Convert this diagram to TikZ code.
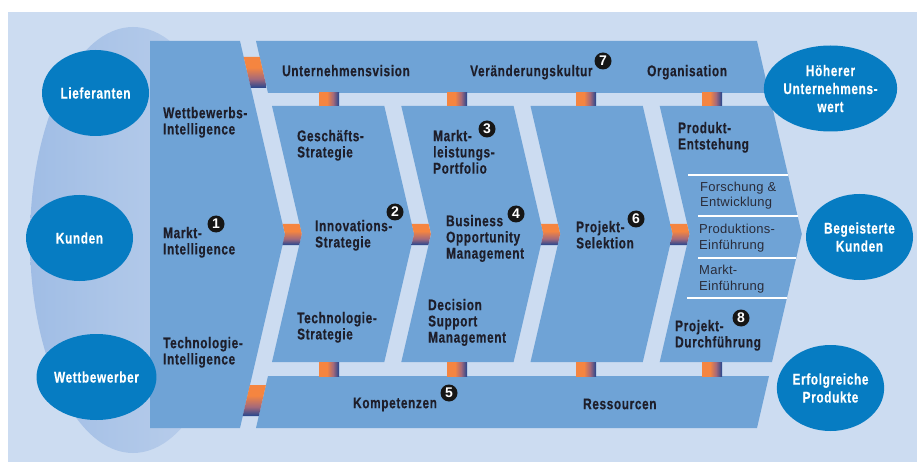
\documentclass[tikz,border=0pt]{standalone}
\usepackage{fontspec}
\usetikzlibrary{shapes.geometric}

% condensed bold face for the labels, plain face for the sub-steps
\newfontfamily\condb{Liberation Sans}[FakeStretch=0.76,LetterSpace=4.2,FakeBold=0.4]
\newfontfamily\plainf{Liberation Sans}[LetterSpace=2]
\newfontfamily\digitf{Liberation Sans}

\definecolor{panel}{HTML}{CCDCF1}
\definecolor{eggL}{HTML}{A0BDE5}
\definecolor{eggR}{HTML}{BED1EC}
\definecolor{chev}{HTML}{6FA3D6}
\definecolor{ell}{HTML}{067CC2}
\definecolor{txt}{HTML}{1E1E2A}
\definecolor{txtb}{HTML}{2A2C3A}
\definecolor{numc}{HTML}{161616}
\definecolor{corange}{HTML}{F58540}
\definecolor{cmauve}{HTML}{A5697A}
\definecolor{cnavy}{HTML}{22458F}

% link pieces: orange fading into navy
\pgfdeclareverticalshading{vlink}{100bp}{color(0bp)=(cnavy); color(25bp)=(cnavy); color(40bp)=(cmauve); color(58bp)=(corange); color(100bp)=(corange)}
\pgfdeclarehorizontalshading{hlink}{100bp}{color(0bp)=(corange); color(45bp)=(corange); color(60bp)=(cmauve); color(75bp)=(cnavy); color(100bp)=(cnavy)}

\newcommand\capstrut{\rule{0pt}{12pt}}

\tikzset{
  lbl/.style={anchor=north west, inner sep=0pt, align=left, text=txt,
    font=\condb\bfseries\fontsize{15.5}{16.2}\selectfont},
  sub/.style={anchor=north west, inner sep=0pt, align=left, text=txtb,
    font=\plainf\fontsize{13}{15.8}\selectfont},
  goal/.style={ellipse, fill=ell, minimum width=107pt, minimum height=86pt,
    inner sep=0pt, align=center, text=white,
    font=\condb\bfseries\fontsize{15.5}{18}\selectfont},
  num/.style={circle, fill=numc, minimum size=17pt, inner sep=0pt, text=white,
    font=\digitf\bfseries\fontsize{14}{14}\selectfont},
  block/.style={fill=chev},
  sep/.style={white, line width=1.5pt}
}

\begin{document}
\begin{tikzpicture}[x=1pt,y=-1pt]
\useasboundingbox (0,0) rectangle (917,462);
\fill[white] (0,0) rectangle (917,462);
\fill[panel] (8,12) rectangle (917,462);

% market environment behind the left column
\shade[left color=eggL, right color=eggR] (133,240) ellipse [x radius=103, y radius=213];

% intelligence column
\fill[block] (150,41) -- (240,41) -- (285,234.5) -- (240,428) -- (150,428) -- cycle;

% top and bottom bands
\fill[block] (256,41) -- (757,41) -- (769,93) -- (268,93) -- cycle;
\fill[block] (268,376) -- (769,376) -- (757,428) -- (256,428) -- cycle;

% process chevrons
\foreach \xl in {272,401.3,530.5,659.7}
  \fill[block] (\xl,106) -- ++(112.3,0) -- ++(29.8,128) -- ++(-29.8,128)
    -- ++(-112.3,0) -- ++(29.8,-128) -- cycle;

% links between the chevrons
\foreach \lt in {285,414.1,543.4,672.6}
  \shade[shading=vlink] (\lt-2.33,224) -- (\lt+14.47,224) -- (\lt+16.8,234)
    -- (\lt+14.24,245) -- (\lt-2.56,245) -- (\lt,234) -- cycle;

% links from the column to the bands
\shade[shading=vlink] (243.7,57) -- (259.7,57) -- (266.8,88) -- (250.9,88) -- cycle;
\shade[shading=vlink] (249.9,385) -- (265.9,385) -- (258.8,416) -- (242.7,416) -- cycle;

% links from the bands to the chevrons
\foreach \cx in {319,447,576,702} {
  \shade[shading=hlink] (\cx,93) rectangle (\cx+20,106);
  \shade[shading=hlink] (\cx,362.5) rectangle (\cx+20,376);
}

% rules between the development sub-steps
\draw[sep] (688,175) -- (788.1,175);
\draw[sep] (698,216) -- (797.6,216);
\draw[sep] (698,258) -- (796.2,258);
\draw[sep] (687,298) -- (786.9,298);

% stakeholders and outcomes
\node[goal] (lief) at (95.5,93) {Lieferanten};
\node[goal] (kund) at (79.5,238) {Kunden};
\node[goal] (wett) at (96.5,377) {Wettbewerber};
\node[goal] (wert) at (830.5,88.5) {Höherer\\Unternehmens-\\wert};
\node[goal] (begk) at (859.5,237) {Begeisterte\\Kunden};
\node[goal] (erfp) at (830.5,388) {Erfolgreiche\\Produkte};

% column labels
\node[lbl] (wi) at (163,106) {\capstrut Wettbewerbs-\\Intelligence};
\node[lbl] (mi) at (163,226) {\capstrut Markt-\\Intelligence};
\node[lbl] (ti) at (163,336) {\capstrut Technologie-\\Intelligence};

% band labels
\node[lbl] (uv) at (282,64) {\capstrut Unternehmensvision};
\node[lbl] (vk) at (470,64) {\capstrut Veränderungskultur};
\node[lbl] (org) at (647,64) {\capstrut Organisation};
\node[lbl] (komp) at (353,396) {\capstrut Kompetenzen};
\node[lbl] (ress) at (583,397) {\capstrut Ressourcen};

% chevron labels
\node[lbl] (gs) at (297,129) {\capstrut Geschäfts-\\Strategie};
\node[lbl] (is) at (315,219) {\capstrut Innovations-\\Strategie};
\node[lbl] (ts) at (297,311) {\capstrut Technologie-\\Strategie};
\node[lbl] (mlp) at (433,129) {\capstrut Markt-\\leistungs-\\Portfolio};
\node[lbl] (bom) at (446,214) {\capstrut Business\\Opportunity\\Management};
\node[lbl] (dsm) at (428,298) {\capstrut Decision\\Support\\Management};
\node[lbl] (ps) at (576,220) {\capstrut Projekt-\\Selektion};
\node[lbl] (pe) at (678,121) {\capstrut Produkt-\\Entstehung};
\node[lbl] (pd) at (675,319) {\capstrut Projekt-\\Durchführung};

% development sub-steps
\node[sub] (fe) at (700,179) {\capstrut Forschung \&\\Entwicklung};
\node[sub] (pre) at (699,221) {\capstrut Produktions-\\Einführung};
\node[sub] (mre) at (699,262) {\capstrut Markt-\\Einführung};

% step numbers
\node[num] (n1) at (216,224) {1};
\node[num] (n2) at (395,212) {2};
\node[num] (n3) at (487,129) {3};
\node[num] (n4) at (516,214) {4};
\node[num] (n5) at (449,393) {5};
\node[num] (n6) at (636,219) {6};
\node[num] (n7) at (603,61) {7};
\node[num] (n8) at (741,318) {8};
\end{tikzpicture}
\end{document}
